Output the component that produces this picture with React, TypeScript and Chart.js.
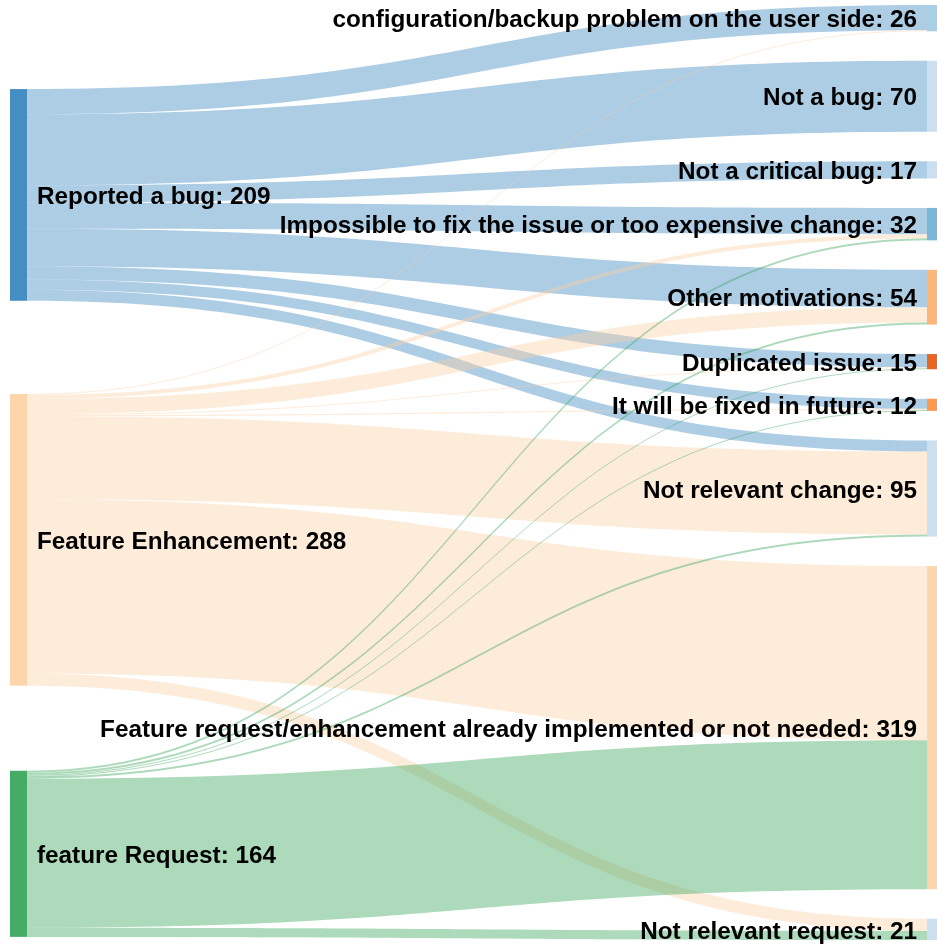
import React, { useEffect, useRef } from "react";
import { Chart, registerables } from "chart.js";

Chart.register(...registerables);

// ---------- data ----------
const SOURCES = ["Reported a bug", "Feature Enhancement", "feature Request"];
const TARGETS = [
  "configuration/backup problem on the user side",
  "Not a bug",
  "Not a critical bug",
  "Impossible to fix the issue or too expensive change",
  "Other motivations",
  "Duplicated issue",
  "It will be fixed in future",
  "Not relevant change",
  "Feature request/enhancement already implemented or not needed",
  "Not relevant request",
];
// flows from each source to each target (same order as TARGETS)
const FROM_BUG = [25, 70, 17, 26, 37, 13, 10, 11, 0, 0];
const FROM_ENHANCEMENT = [1, 0, 0, 4, 15, 1, 1, 82, 172, 12];
const FROM_REQUEST = [0, 0, 0, 2, 2, 1, 1, 2, 147, 9];
const FLOWS = [FROM_BUG, FROM_ENHANCEMENT, FROM_REQUEST];

// ---------- layout / style ----------
const SOURCE_COLORS = ["49,130,189", "253,208,162", "49,163,84"];
const TARGET_COLORS = [
  "158,202,225",
  "198,219,239",
  "198,219,239",
  "107,174,214",
  "253,174,107",
  "230,85,13",
  "253,141,60",
  "198,219,239",
  "253,208,162",
  "198,219,239",
];
const NODE_ALPHA = 0.9;
const LINK_ALPHA = 0.4;
const NODE_W = 17;
const NODE_PAD = 29.12; // value units between right-hand nodes
const LEFT_GAPS = [83, 92, 84]; // value units before each left-hand node
const FONT = 'bold 24.3px "Liberation Sans", Arial, Helvetica, sans-serif';
const LABEL_DY = 2.5;

const sum = (a: number[]) => a.reduce((s, v) => s + v, 0);
const sourceTotals = FLOWS.map(sum);
const targetTotals = TARGETS.map((_, j) => sum(FLOWS.map((f) => f[j])));
const Y_MAX = sum(targetTotals) + NODE_PAD * (TARGETS.length - 1);

const sankeyPlugin = {
  id: "sankey",
  afterDatasetsDraw(chart: any) {
    const ctx: CanvasRenderingContext2D = chart.ctx;
    const xs = chart.scales.x;
    const ys = chart.scales.y;
    const py = (v: number) => ys.getPixelForValue(v);

    const leftY0: number[] = [];
    let y = 0;
    sourceTotals.forEach((t, i) => {
      y += LEFT_GAPS[i];
      leftY0.push(y);
      y += t;
    });
    const rightY0: number[] = [];
    y = 0;
    targetTotals.forEach((t, j) => {
      if (j > 0) y += NODE_PAD;
      rightY0.push(y);
      y += t;
    });

    const xL = xs.getPixelForValue(0);
    const xR = xs.getPixelForValue(1);
    const x0 = xL + NODE_W;
    const x1 = xR;
    const xm = (x0 + x1) / 2;

    // links
    const srcOff = sourceTotals.map(() => 0);
    const tgtOff = targetTotals.map(() => 0);
    FLOWS.forEach((row, i) => {
      row.forEach((v, j) => {
        if (v <= 0) return;
        const s0 = py(leftY0[i] + srcOff[i]);
        const s1 = py(leftY0[i] + srcOff[i] + v);
        const t0 = py(rightY0[j] + tgtOff[j]);
        const t1 = py(rightY0[j] + tgtOff[j] + v);
        srcOff[i] += v;
        tgtOff[j] += v;
        ctx.beginPath();
        ctx.moveTo(x0, s0);
        ctx.bezierCurveTo(xm, s0, xm, t0, x1, t0);
        ctx.lineTo(x1, t1);
        ctx.bezierCurveTo(xm, t1, xm, s1, x0, s1);
        ctx.closePath();
        ctx.fillStyle = `rgba(${SOURCE_COLORS[i]},${LINK_ALPHA})`;
        ctx.fill();
      });
    });

    // nodes
    sourceTotals.forEach((t, i) => {
      const a = py(leftY0[i]);
      const b = py(leftY0[i] + t);
      ctx.fillStyle = `rgba(${SOURCE_COLORS[i]},${NODE_ALPHA})`;
      ctx.fillRect(xL, a, NODE_W, b - a);
    });
    targetTotals.forEach((t, j) => {
      const a = py(rightY0[j]);
      const b = py(rightY0[j] + t);
      ctx.fillStyle = `rgba(${TARGET_COLORS[j]},${NODE_ALPHA})`;
      ctx.fillRect(xR, a, NODE_W, b - a);
    });

    // labels
    ctx.save();
    ctx.font = FONT;
    ctx.fillStyle = "#000";
    ctx.textBaseline = "middle";
    ctx.textAlign = "left";
    sourceTotals.forEach((t, i) => {
      const c = py(leftY0[i] + t / 2) + LABEL_DY;
      ctx.fillText(`${SOURCES[i]}: ${t}`, x0 + 10, c);
    });
    ctx.textAlign = "right";
    targetTotals.forEach((t, j) => {
      const c = py(rightY0[j] + t / 2) + LABEL_DY;
      ctx.fillText(`${TARGETS[j]}: ${t}`, xR - 10, c);
    });
    ctx.restore();
  },
};

export default function App() {
  const ref = useRef<HTMLCanvasElement | null>(null);
  useEffect(() => {
    document.body.style.margin = "0";
    document.body.style.overflow = "hidden";
    if (!ref.current) return;
    const chart = new Chart(ref.current, {
      type: "scatter",
      data: { datasets: [{ data: [] }] },
      options: {
        animation: false,
        responsive: false,
        maintainAspectRatio: false,
        layout: { padding: { top: 5, bottom: 5, left: 10, right: 10 } },
        plugins: { legend: { display: false }, tooltip: { enabled: false } },
        scales: {
          x: { type: "linear", min: 0, max: 1, display: false },
          y: { type: "linear", min: 0, max: Y_MAX, reverse: true, display: false },
        },
      },
      plugins: [sankeyPlugin],
    });
    return () => chart.destroy();
  }, []);
  return (
    <div style={{ width: 937, height: 945, overflow: "hidden", background: "#fff" }}>
      <canvas ref={ref} width={937} height={945} style={{ display: "block" }} />
    </div>
  );
}
